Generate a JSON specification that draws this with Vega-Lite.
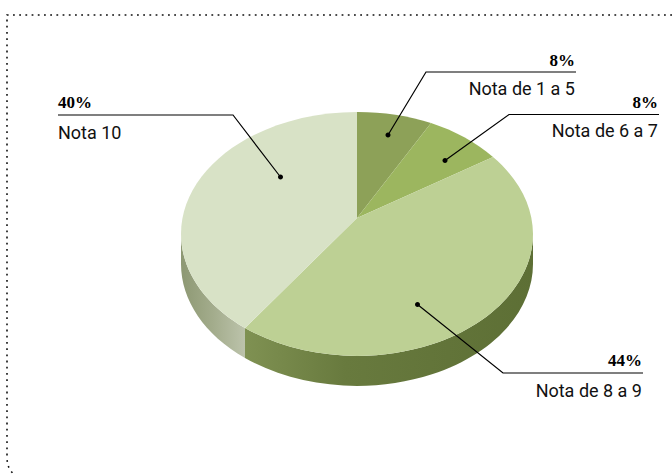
{
  "$schema": "https://vega.github.io/schema/vega-lite/v6.json",
  "width": 672,
  "height": 474,
  "padding": 0,
  "autosize": {"type": "none"},
  "background": "white",
  "view": {"stroke": null},
  "data": {"values": [
    {"faixa": "Nota de 1 a 5", "pct": "8%"},
    {"faixa": "Nota de 6 a 7", "pct": "8%"},
    {"faixa": "Nota de 8 a 9", "pct": "44%"},
    {"faixa": "Nota 10", "pct": "40%"}
  ]},
  "resolve": {"scale": {"shape": "independent", "color": "independent"}},
  "layer": [
    {
      "data": {"values": [{"elemento": "moldura"}]},
      "mark": {"type": "point", "size": 4, "filled": false, "color": "#111111", "strokeWidth": 1.6, "strokeDash": [1.8, 4.4], "opacity": 1, "shape": "M336,-222 L-329,-222 L-329,220 Q-329,232 -322,237"}
    },
    {
      "transform": [{"filter": "datum.faixa === 'Nota 10'"}],
      "mark": {"type": "point", "size": 4, "filled": true, "opacity": 1, "strokeWidth": 0, "shape": "M-155,-3 A176,122 0 0 0 -91,91 L-91,121 A176,122 0 0 1 -155,27 Z", "fill": {"gradient": "linear", "x1": 0, "x2": 1, "y1": 0, "y2": 0, "stops": [{"offset": 0, "color": "#8d9873"}, {"offset": 0.5, "color": "#a3ac8c"}, {"offset": 1, "color": "#bcc3ab"}]}}
    },
    {
      "transform": [{"filter": "datum.faixa === 'Nota de 8 a 9'"}],
      "mark": {"type": "point", "size": 4, "filled": true, "opacity": 1, "strokeWidth": 0, "shape": "M-91,91 A176,122 0 0 0 197,-3 L197,27 A176,122 0 0 1 -91,121 Z", "fill": {"gradient": "linear", "x1": 0, "x2": 1, "y1": 0, "y2": 0, "stops": [{"offset": 0, "color": "#7f9152"}, {"offset": 0.35, "color": "#687a3e"}, {"offset": 1, "color": "#5d6f35"}]}}
    },
    {
      "mark": {"type": "point", "size": 4, "filled": true, "opacity": 1, "strokeWidth": 0},
      "encoding": {
        "shape": {"field": "faixa", "type": "nominal", "legend": null, "scale": {
          "domain": ["Nota de 1 a 5", "Nota de 6 a 7", "Nota de 8 a 9", "Nota 10"],
          "range": [
            "M21,-19 L21,-125 A176,122 0 0 1 95,-114 Z",
            "M21,-19 L95,-114 A176,122 0 0 1 157,-80 Z",
            "M21,-19 L157,-80 A176,122 0 0 1 197,-3 A176,122 0 0 1 -91,91 Z",
            "M21,-19 L-91,91 A176,122 0 0 1 -155,-3 A176,122 0 0 1 21,-125 Z"
          ]}},
        "fill": {"field": "faixa", "type": "nominal", "legend": null, "scale": {
          "domain": ["Nota de 1 a 5", "Nota de 6 a 7", "Nota de 8 a 9", "Nota 10"],
          "range": ["#8da158", "#9cb65f", "#bdd094", "#d8e2c6"]}}
      }
    },
    {
      "mark": {"type": "point", "size": 4, "filled": false, "opacity": 1, "color": "#000000", "strokeWidth": 1.2},
      "encoding": {
        "shape": {"field": "faixa", "type": "nominal", "legend": null, "scale": {
          "domain": ["Nota de 1 a 5", "Nota de 6 a 7", "Nota de 8 a 9", "Nota 10"],
          "range": [
            "M240,-165 L90,-165 L52,-102",
            "M323,-122.5 L173,-122.5 L109,-76.5",
            "M307,136 L167,136 L81.5,67.5",
            "M-278,-122 L-103,-122 L-55.5,-60"
          ]}}
      }
    },
    {
      "mark": {"type": "point", "size": 4, "filled": true, "opacity": 1, "color": "#000000", "strokeWidth": 0},
      "encoding": {
        "shape": {"field": "faixa", "type": "nominal", "legend": null, "scale": {
          "domain": ["Nota de 1 a 5", "Nota de 6 a 7", "Nota de 8 a 9", "Nota 10"],
          "range": [
            "M49.5,-102 A2.5,2.5 0 1 1 54.5,-102 A2.5,2.5 0 1 1 49.5,-102 Z",
            "M106.5,-76.5 A2.5,2.5 0 1 1 111.5,-76.5 A2.5,2.5 0 1 1 106.5,-76.5 Z",
            "M79,67.5 A2.5,2.5 0 1 1 84,67.5 A2.5,2.5 0 1 1 79,67.5 Z",
            "M-58,-60 A2.5,2.5 0 1 1 -53,-60 A2.5,2.5 0 1 1 -58,-60 Z"
          ]}}
      }
    },
    {"transform": [{"filter": "datum.faixa === 'Nota de 1 a 5'"}], "mark": {"type": "text", "align": "right", "baseline": "alphabetic", "font": "Liberation Sans Narrow", "fontWeight": "bold", "fontSize": 17, "color": "#000000", "dx": 239, "dy": -171}, "encoding": {"text": {"field": "pct"}}},
    {"transform": [{"filter": "datum.faixa === 'Nota de 1 a 5'"}], "mark": {"type": "text", "align": "right", "baseline": "alphabetic", "font": "Roboto", "fontSize": 18, "color": "#111111", "dx": 239, "dy": -142}, "encoding": {"text": {"field": "faixa"}}},
    {"transform": [{"filter": "datum.faixa === 'Nota de 6 a 7'"}], "mark": {"type": "text", "align": "right", "baseline": "alphabetic", "font": "Liberation Sans Narrow", "fontWeight": "bold", "fontSize": 17, "color": "#000000", "dx": 322, "dy": -129}, "encoding": {"text": {"field": "pct"}}},
    {"transform": [{"filter": "datum.faixa === 'Nota de 6 a 7'"}], "mark": {"type": "text", "align": "right", "baseline": "alphabetic", "font": "Roboto", "fontSize": 18, "color": "#111111", "dx": 322, "dy": -100}, "encoding": {"text": {"field": "faixa"}}},
    {"transform": [{"filter": "datum.faixa === 'Nota de 8 a 9'"}], "mark": {"type": "text", "align": "right", "baseline": "alphabetic", "font": "Liberation Sans Narrow", "fontWeight": "bold", "fontSize": 17, "color": "#000000", "dx": 306, "dy": 129}, "encoding": {"text": {"field": "pct"}}},
    {"transform": [{"filter": "datum.faixa === 'Nota de 8 a 9'"}], "mark": {"type": "text", "align": "right", "baseline": "alphabetic", "font": "Roboto", "fontSize": 18, "color": "#111111", "dx": 306, "dy": 160}, "encoding": {"text": {"field": "faixa"}}},
    {"transform": [{"filter": "datum.faixa === 'Nota 10'"}], "mark": {"type": "text", "align": "left", "baseline": "alphabetic", "font": "Liberation Sans Narrow", "fontWeight": "bold", "fontSize": 17, "color": "#000000", "dx": -278, "dy": -129}, "encoding": {"text": {"field": "pct"}}},
    {"transform": [{"filter": "datum.faixa === 'Nota 10'"}], "mark": {"type": "text", "align": "left", "baseline": "alphabetic", "font": "Roboto", "fontSize": 18, "color": "#111111", "dx": -278, "dy": -98}, "encoding": {"text": {"field": "faixa"}}}
  ]
}
